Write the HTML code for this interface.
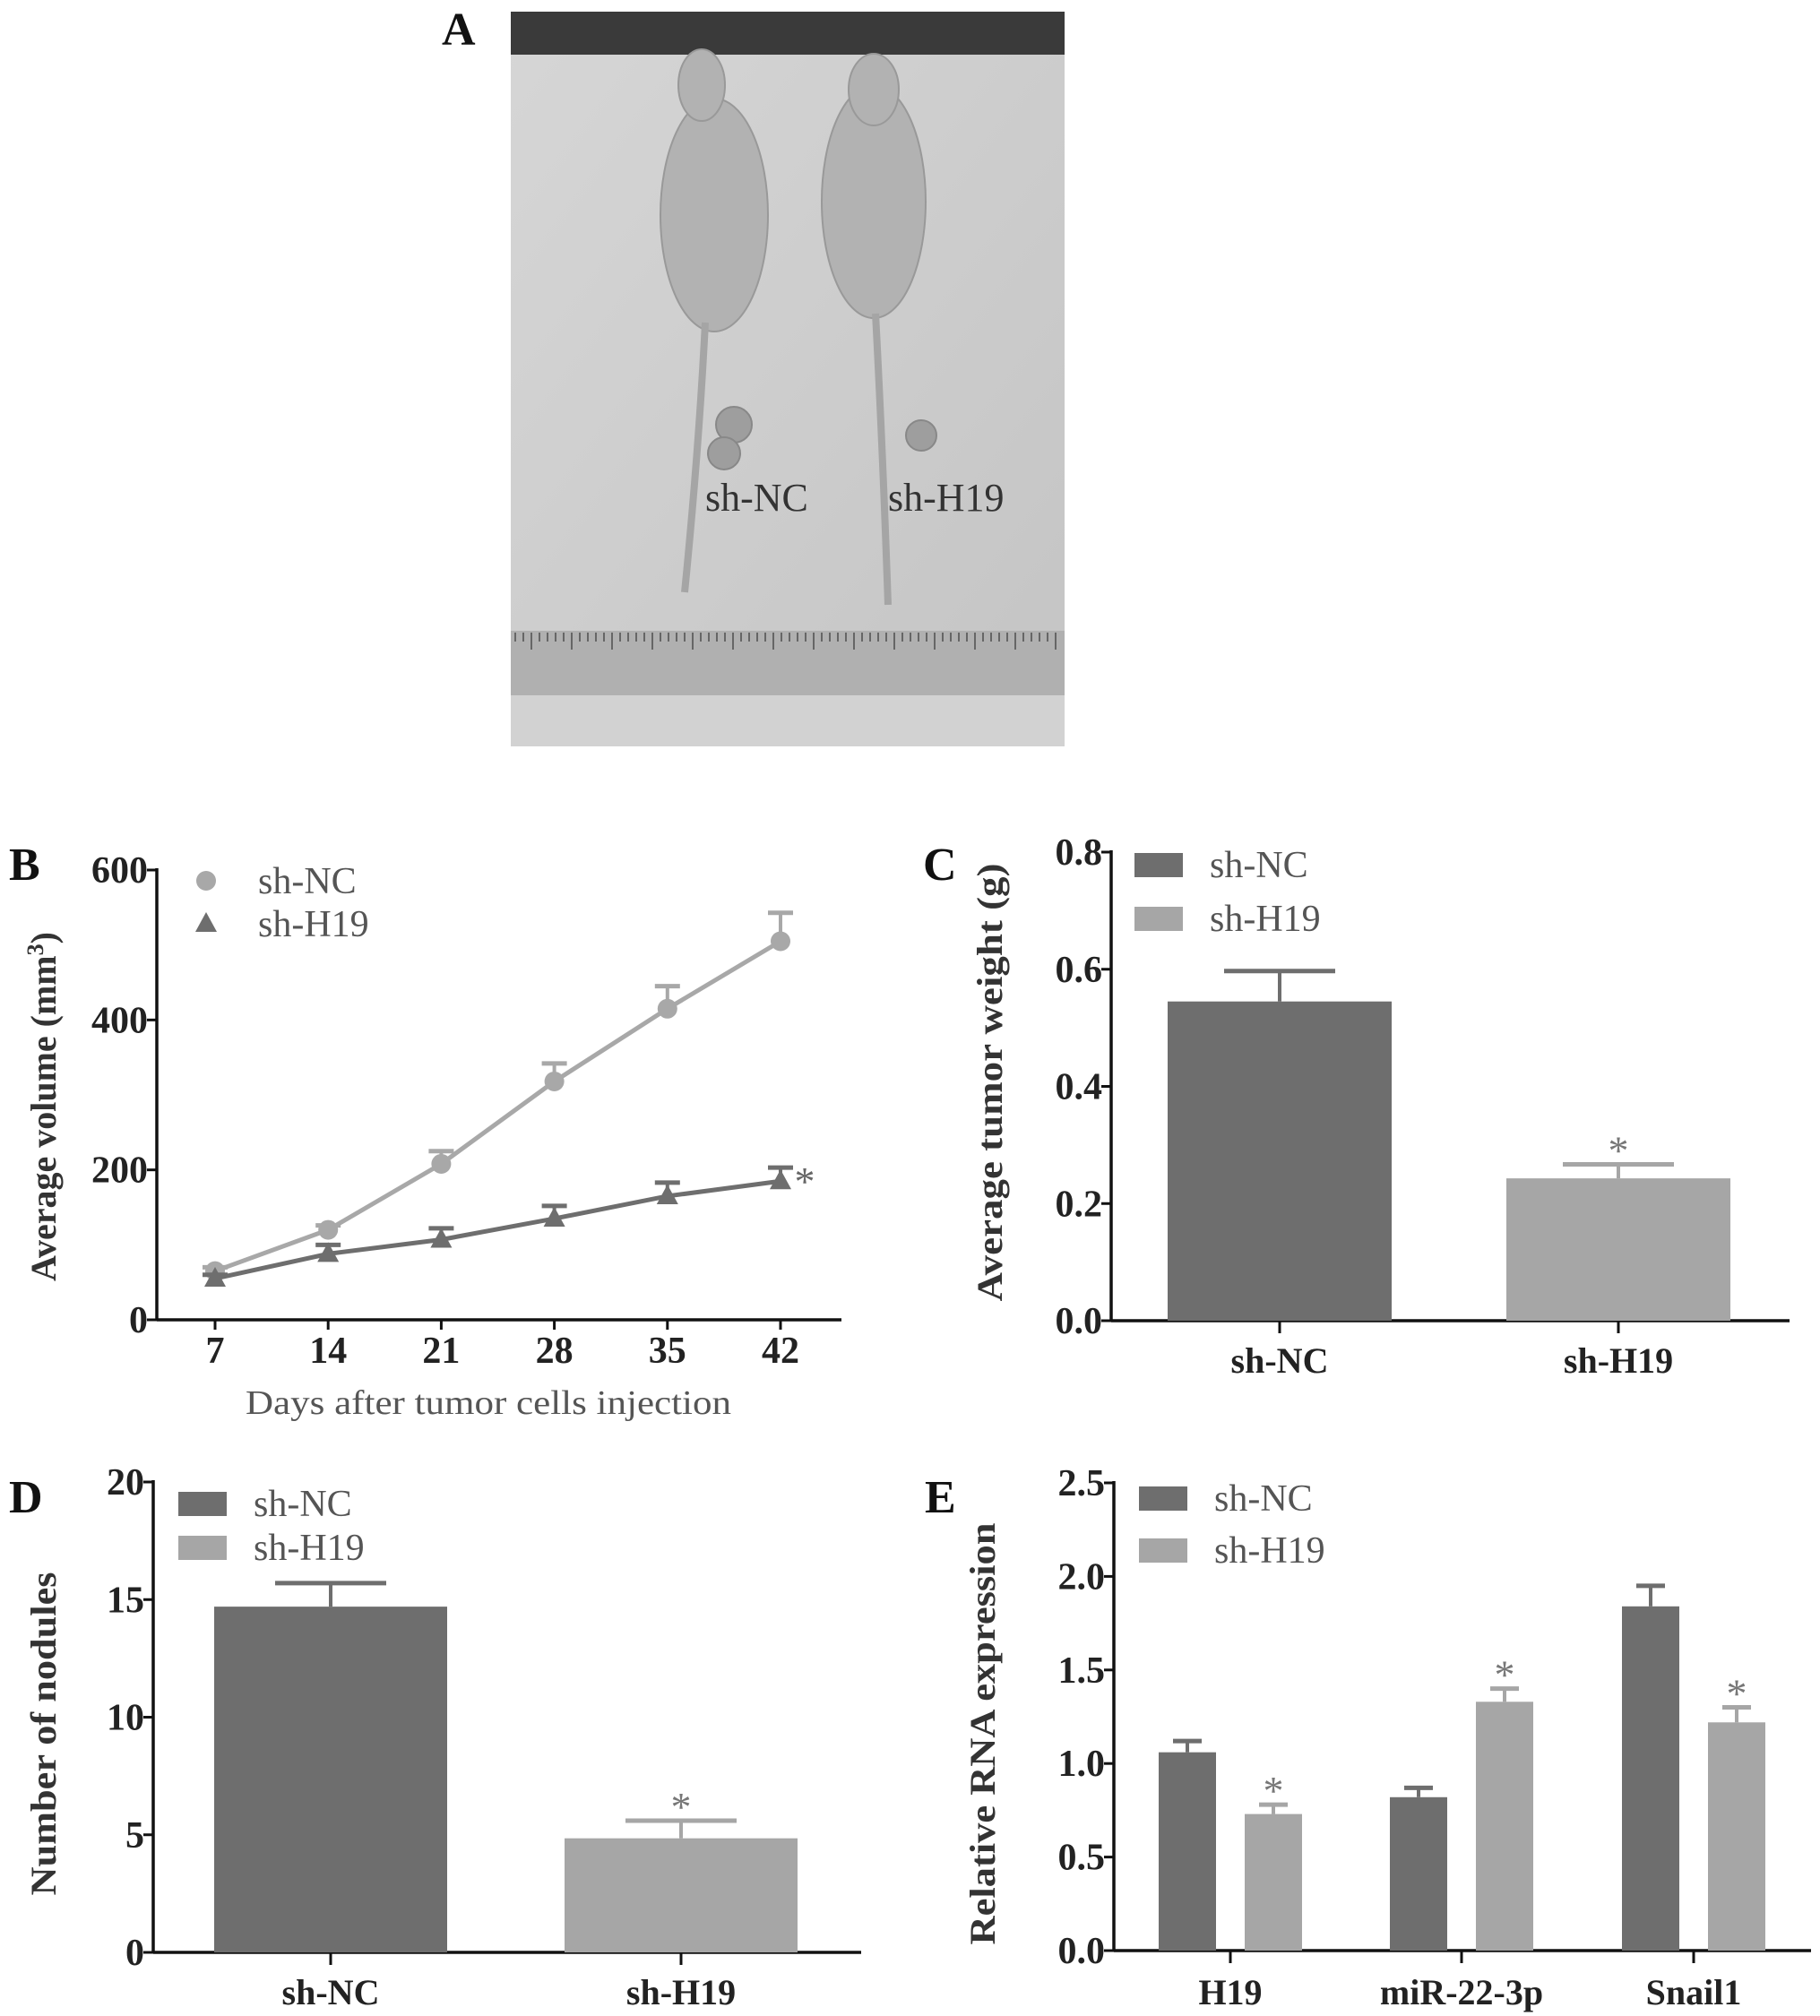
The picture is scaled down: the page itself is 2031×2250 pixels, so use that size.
<!DOCTYPE html>
<html><head><meta charset="utf-8"><style>
html,body{margin:0;padding:0;background:#fff;}
svg{display:block;font-family:"Liberation Serif",serif;}
.tk{font-weight:bold;font-size:42px;fill:#222;}
.lg{font-size:42px;fill:#555;}
.cat{font-weight:bold;font-size:40px;fill:#222;}
.yt{font-weight:bold;font-size:40px;fill:#333;}
.pl{font-weight:bold;font-size:52px;fill:#111;}
</style></head><body>
<svg id="fig" width="2031" height="2250" viewBox="0 0 2031 2250" xmlns="http://www.w3.org/2000/svg">
<defs><linearGradient id="bg" x1="0" y1="0" x2="1" y2="1"><stop offset="0" stop-color="#d6d6d6"/><stop offset="1" stop-color="#c4c4c4"/></linearGradient></defs>
<g id="panelA">
<text class="pl" x="493" y="50">A</text>
<rect x="570" y="13" width="618" height="820" fill="url(#bg)"/>
<rect x="570" y="13" width="618" height="48" fill="#3a3a3a"/>
<rect x="570" y="704" width="618" height="72" fill="#b0b0b0"/>
<rect x="570" y="776" width="618" height="57" fill="#d2d2d2"/>
<g stroke="#666" stroke-width="2" id="ruler"></g>
<g fill="#b2b2b2" stroke="#999" stroke-width="2">
<ellipse cx="797" cy="240" rx="60" ry="130"/><ellipse cx="783" cy="95" rx="26" ry="40"/>
<ellipse cx="975" cy="225" rx="58" ry="130"/><ellipse cx="975" cy="100" rx="28" ry="40"/>
</g>
<path d="M787 360 Q780 500 764 661 M977 350 Q985 500 991 675" stroke="#a5a5a5" stroke-width="8" fill="none"/>
<g fill="#9e9e9e" stroke="#888" stroke-width="2"><circle cx="819" cy="474" r="20"/><circle cx="808" cy="506" r="18"/><circle cx="1028" cy="486" r="17"/></g>
<text x="787" y="570" font-size="44" fill="#333">sh-NC</text>
<text x="991" y="570" font-size="44" fill="#333">sh-H19</text>
</g>
<g id="panelB"></g>
<g id="panelC"></g>
<g id="panelD"></g>
<g id="panelE"></g>
</svg>
<script>
// Panel B data
const bDays = [7, 14, 21, 28, 35, 42];
const bNC = [65, 120, 208, 318, 415, 505];
const bNCerr = [5, 6, 17, 24, 30, 38];
const bH19 = [55, 88, 107, 135, 165, 185];
const bH19err = [5, 12, 15, 17, 18, 18];
const bYTicks = [0, 200, 400, 600];
// Panel C data
const cCats = ["sh-NC", "sh-H19"];
const cVals = [0.545, 0.243];
const cErr = [0.052, 0.024];
const cYTicks = ["0.0", "0.2", "0.4", "0.6", "0.8"];
// Panel D data
const dCats = ["sh-NC", "sh-H19"];
const dVals = [14.7, 4.85];
const dErr = [1.0, 0.75];
const dYTicks = [0, 5, 10, 15, 20];
// Panel E data
const eCats = ["H19", "miR-22-3p", "Snail1"];
const eNC = [1.06, 0.82, 1.84];
const eNCerr = [0.06, 0.05, 0.11];
const eH19 = [0.73, 1.33, 1.22];
const eH19err = [0.05, 0.07, 0.08];
const eYTicks = ["0.0", "0.5", "1.0", "1.5", "2.0", "2.5"];

const NS = "http://www.w3.org/2000/svg";
function mk(parent, tag, attrs, text) {
  const e = document.createElementNS(NS, tag);
  for (const k in attrs) e.setAttribute(k, attrs[k]);
  if (text !== undefined) e.textContent = text;
  parent.appendChild(e);
  return e;
}
const DARK = "#6e6e6e", LIGHT = "#a6a6a6";

const rg = document.getElementById("ruler");
for (let x = 575; x < 1180; x += 9) { mk(rg, "line", {x1: x, y1: 706, x2: x, y2: (x % 45 < 9) ? 725 : 716}); }

function yAxis(g, x0, yTop, yBot, ticks, vmax, label, lx, ly, len) {
  mk(g, "line", {x1: x0, y1: yTop - 2, x2: x0, y2: yBot + 1.5, stroke: "#111", "stroke-width": 3.5});
  ticks.forEach(t => {
    const y = yBot - (parseFloat(t) / vmax) * (yBot - yTop);
    mk(g, "line", {x1: x0 - 11, y1: y, x2: x0, y2: y, stroke: "#111", "stroke-width": 3});
    const tx = mk(g, "text", {x: x0 - 10, y: y + 14, "text-anchor": "end", class: "tk"}, String(t));
    
    
  });
  const yt = mk(g, "text", {x: 0, y: 0, class: "yt", "text-anchor": "middle", transform: `translate(${lx},${ly}) rotate(-90)`, textLength: len, lengthAdjust: "spacingAndGlyphs"}, label);
  
  
  return yt;
}
function legend(g, items, x, ys, boxes) {
  items.forEach((it, i) => {
    if (boxes) mk(g, "rect", {x: x, y: ys[i] - 13, width: 54, height: 27, fill: it.c});
    const t = mk(g, "text", {x: x + 84, y: ys[i] + 14, class: "lg"}, it.t);
    
    
  });
}
function errBar(g, cx, yTop, yBar, hw, color) {
  mk(g, "line", {x1: cx, y1: yBar, x2: cx, y2: yTop, stroke: color, "stroke-width": 4});
  mk(g, "line", {x1: cx - hw, y1: yTop, x2: cx + hw, y2: yTop, stroke: color, "stroke-width": 5});
}
function star(g, cx, y, color) {
  const s = mk(g, "text", {x: cx, y: y + 6, "text-anchor": "middle", "font-size": 46, fill: color || "#666"}, "*");
  
  
}

// ---------- Panel B ----------
(function () {
  const g = document.getElementById("panelB");
  const x0 = 175, yTop = 971, yBot = 1473, xEnd = 939;
  const xs = d => 240 + (d - 7) / 35 * (871 - 240);
  const ys = v => yBot - v / 600 * (yBot - yTop);
  mk(g, "text", {x: 10, y: 982, class: "pl"}, "B");
  yAxis(g, x0, yTop, yBot, bYTicks, 600, "", 50, 1235, 416).remove();
  const yt = mk(g, "text", {x: 0, y: 0, class: "yt", "text-anchor": "middle", transform: "translate(62,1235) rotate(-90)"});
  
  
  yt.innerHTML = 'Average volume (mm<tspan dy="-14" font-size="26">3</tspan><tspan dy="14">)</tspan>';
  mk(g, "line", {x1: x0, y1: yBot, x2: xEnd, y2: yBot, stroke: "#111", "stroke-width": 3.5});
  bDays.forEach(d => {
    mk(g, "line", {x1: xs(d), y1: yBot, x2: xs(d), y2: yBot + 11, stroke: "#111", "stroke-width": 3});
    const t = mk(g, "text", {x: xs(d), y: yBot + 48, "text-anchor": "middle", class: "tk"}, String(d));
    
    
  });
  const xt = mk(g, "text", {x: 545, y: 1578, "text-anchor": "middle", "font-size": 38, fill: "#555", textLength: 542, lengthAdjust: "spacingAndGlyphs"}, "Days after tumor cells injection");
  
  
  [[bNC, bNCerr, "#a8a8a8", "circle", "series-sh-nc"], [bH19, bH19err, "#6e6e6e", "tri", "series-sh-h19"]].forEach(([vals, errs, c, m, nm]) => {
    const sg = mk(g, "g", {});
    
    
    vals.forEach((v, i) => errBar(sg, xs(bDays[i]), ys(v + errs[i]), ys(v), 14, c));
    mk(sg, "polyline", {points: vals.map((v, i) => xs(bDays[i]) + "," + ys(v)).join(" "), fill: "none", stroke: c, "stroke-width": 5});
    vals.forEach((v, i) => {
      const x = xs(bDays[i]), y = ys(v);
      let p;
      if (m === "circle") p = mk(sg, "circle", {cx: x, cy: y, r: 11, fill: c});
      else p = mk(sg, "polygon", {points: `${x},${y - 13} ${x - 12},${y + 9} ${x + 12},${y + 9}`, fill: c});
      
      
    });
  });
  star(g, 898, yBot - bH19[5] / 600 * (yBot - yTop) + 10, "#666");
  mk(g, "circle", {cx: 230, cy: 983, r: 11, fill: "#a8a8a8"});
  mk(g, "polygon", {points: "230,1018 218,1040 242,1040", fill: "#6e6e6e"});
  legend(g, [{t: "sh-NC"}, {t: "sh-H19"}], 204, [983, 1031], false);
})();

function barPanel(gid, letter, lx, ly, x0, yTop, yBot, xEnd, ticks, vmax, title, tx, ty, tlen, cats, vals, errs, barX, barW, legX, legY) {
  const g = document.getElementById(gid);
  mk(g, "text", {x: lx, y: ly, class: "pl"}, letter);
  yAxis(g, x0, yTop, yBot, ticks, vmax, title, tx, ty, tlen);
  mk(g, "line", {x1: x0, y1: yBot, x2: xEnd, y2: yBot, stroke: "#111", "stroke-width": 3.5});
  const ys = v => yBot - v / vmax * (yBot - yTop);
  const cols = [DARK, LIGHT];
  cats.forEach((c, i) => {
    const cx = barX[i] + barW / 2;
    const y = ys(vals[i]);
    const r = mk(g, "rect", {x: barX[i], y: y, width: barW, height: yBot - y, fill: cols[i]});
    
    
    errBar(g, cx, ys(vals[i] + errs[i]), y, 62, cols[i]);
    if (i === 1) star(g, cx, ys(vals[i] + errs[i]) - 6, "#777");
    mk(g, "line", {x1: cx, y1: yBot, x2: cx, y2: yBot + 14, stroke: "#111", "stroke-width": 3});
    const t = mk(g, "text", {x: cx, y: yBot + 58, "text-anchor": "middle", class: "cat"}, c);
    
    
  });
  legend(g, [{t: "sh-NC", c: DARK}, {t: "sh-H19", c: LIGHT}], legX, legY, true);
}
barPanel("panelC", "C", 1030, 982, 1240, 951, 1474, 1997, cYTicks, 0.8, "Average tumor weight (g)", 1118, 1208, 489, cCats, cVals, cErr, [1303, 1681], 250, 1266, [965, 1025]);
barPanel("panelD", "D", 10, 1688, 171, 1654, 2179, 961, dYTicks, 20, "Number of nodules", 62, 1935, 361, dCats, dVals, dErr, [239, 630], 260, 199, [1678, 1727]);

(function () {
  const g = document.getElementById("panelE");
  const x0 = 1243, yTop = 1655, yBot = 2177, xEnd = 2021, vmax = 2.5;
  const ys = v => yBot - v / vmax * (yBot - yTop);
  const centers = [1373, 1631, 1890];
  mk(g, "text", {x: 1032, y: 1688, class: "pl"}, "E");
  yAxis(g, x0, yTop, yBot, eYTicks, vmax, "Relative RNA expression", 1110, 1935, 471);
  mk(g, "line", {x1: x0, y1: yBot, x2: xEnd, y2: yBot, stroke: "#111", "stroke-width": 3.5});
  eCats.forEach((c, i) => {
    const cx = centers[i];
    [[eNC, eNCerr, DARK, cx - 80, false], [eH19, eH19err, LIGHT, cx + 16, true]].forEach(([vals, errs, col, bx, st]) => {
      const y = ys(vals[i]);
      const r = mk(g, "rect", {x: bx, y: y, width: 64, height: yBot - y, fill: col});
      
      
      errBar(g, bx + 32, ys(vals[i] + errs[i]), y, 16, col);
      if (st) star(g, bx + 32, ys(vals[i] + errs[i]) - 6, "#777");
    });
    mk(g, "line", {x1: cx, y1: yBot, x2: cx, y2: yBot + 14, stroke: "#111", "stroke-width": 3});
    const t = mk(g, "text", {x: cx, y: yBot + 60, "text-anchor": "middle", class: "cat"}, c);
    
    
  });
  legend(g, [{t: "sh-NC", c: DARK}, {t: "sh-H19", c: LIGHT}], 1271, [1672, 1730], true);
})();
</script>
</body></html>
